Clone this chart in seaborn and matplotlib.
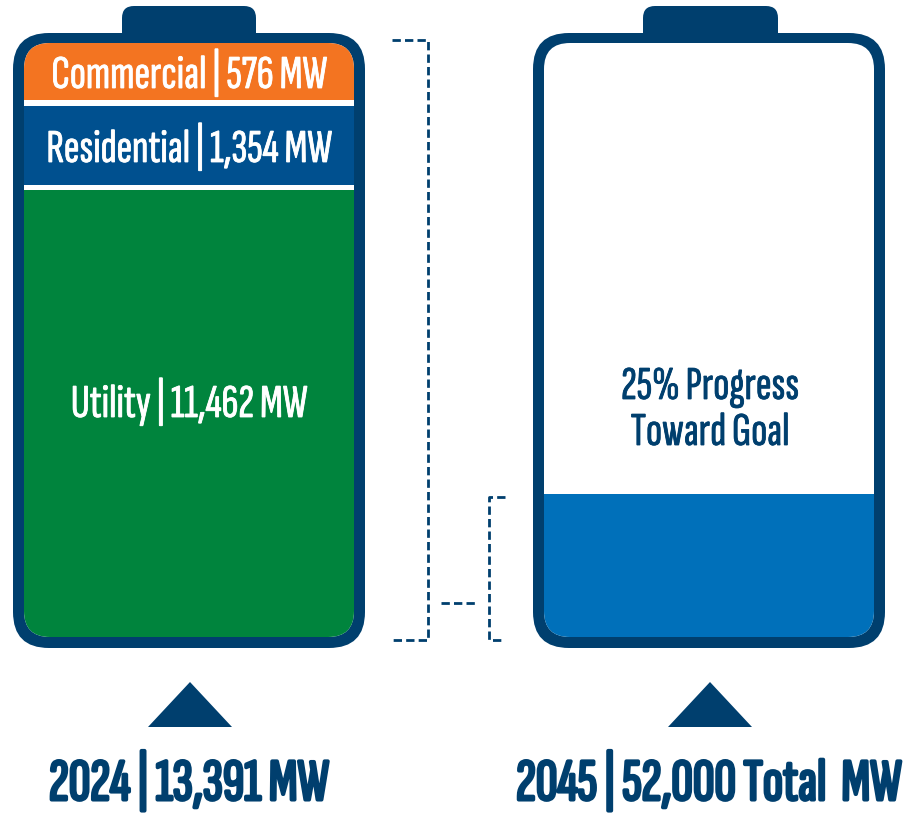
import matplotlib
matplotlib.use("Agg")
import matplotlib.pyplot as plt
import matplotlib.patheffects as pe
from matplotlib.patches import FancyBboxPatch, Rectangle, Polygon
import seaborn as sns

# ---- data ----
segments = ["Commercial", "Residential", "Utility"]
segment_mw = [576, 1354, 11462]
years = ["2024", "2045"]
totals_mw = [13391, 52000]
progress_pct = 25

NAVY = "#003F6E"
SEG_COLORS = ["#F37421", "#00508F", "#00843D"]
FILL = "#0070BA"

sns.set_theme(style="white")
plt.rcParams['font.family'] = ['Sofia Sans Extra Condensed', 'DejaVu Sans']

fig = plt.figure(figsize=(9.15, 8.13), dpi=100)
ax = fig.add_axes([0, 0, 1, 1])
ax.set_xlim(0, 915)
ax.set_ylim(813, 0)
ax.axis('off')


def battery(x0, x1, y0, y1, cx0, cx1):
    ax.add_patch(FancyBboxPatch((cx0, 6), cx1 - cx0, 40,
                                boxstyle="round,pad=0,rounding_size=12",
                                fc=NAVY, ec='none'))
    ax.add_patch(FancyBboxPatch((x0, y0), x1 - x0, y1 - y0,
                                boxstyle="round,pad=0,rounding_size=36",
                                fc=NAVY, ec='none'))
    inner = FancyBboxPatch((x0 + 11, y0 + 10), x1 - x0 - 22, y1 - y0 - 21,
                           boxstyle="round,pad=0,rounding_size=26",
                           fc='white', ec='none')
    ax.add_patch(inner)
    return inner


def semi_bold(color, w=0.6):
    return [pe.withStroke(linewidth=w, foreground=color)]


# left battery
inner_l = battery(13, 365, 33, 648, 122, 256)
seg_bounds = [(43, 100), (106, 185), (190, 640)]
seg_base_y = [88, 162, 417]
for name, val, col, (a, b), ty in zip(segments, segment_mw, SEG_COLORS, seg_bounds, seg_base_y):
    r = Rectangle((0, a), 400, b - a, fc=col, ec='none')
    ax.add_patch(r)
    r.set_clip_path(inner_l)
    ax.text(189, ty, f"{name} | {val:,} MW", color='white', fontsize=34,
            ha='center', va='baseline', path_effects=semi_bold('white'))

# right battery
inner_r = battery(533, 885, 33, 648, 643, 778)
in_top, in_bot = 63, 637
fill_top = in_bot - (in_bot - in_top) * progress_pct / 100
r = Rectangle((520, fill_top), 380, in_bot + 20 - fill_top, fc=FILL, ec='none')
ax.add_patch(r)
r.set_clip_path(inner_r)
ax.text(710, 399, f"{progress_pct}% Progress", color=NAVY,
        fontsize=34, ha='center', va='baseline', path_effects=semi_bold(NAVY))
ax.text(710, 445, "Toward Goal", color=NAVY,
        fontsize=34, ha='center', va='baseline', path_effects=semi_bold(NAVY))

# brackets
dash = dict(color=NAVY, lw=2.0, ls=(0, (3, 1.5)))
ax.plot([392, 428, 428, 392], [40, 40, 640, 640], **dash)
ax.plot([441, 476], [603, 603], **dash)
ax.plot([505, 489, 489, 505], [497, 497, 640, 640], **dash)

# triangles
for cx in (190, 710):
    ax.add_patch(Polygon([[cx - 42, 727], [cx + 42, 727], [cx, 682]],
                         closed=True, fc=NAVY, ec='none'))

# bottom labels
ax.text(189, 800, f"{years[0]} | {totals_mw[0]:,} MW", color=NAVY,
        fontsize=43, ha='center', va='baseline', path_effects=semi_bold(NAVY, 2.2))
ax.text(709, 800, f"{years[1]} | {totals_mw[1]:,} Total  MW", color=NAVY,
        fontsize=43, ha='center', va='baseline', path_effects=semi_bold(NAVY, 2.2))

fig.savefig("out.png", dpi=100)
